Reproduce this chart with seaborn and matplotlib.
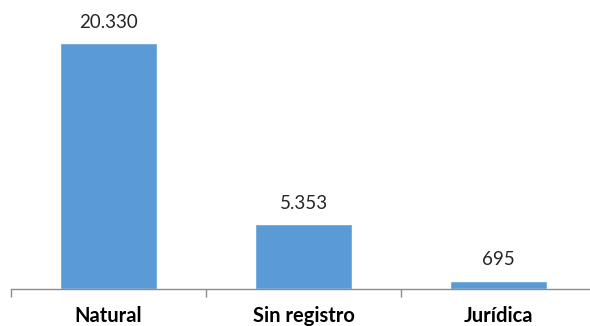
import matplotlib
matplotlib.use("Agg")
import matplotlib.pyplot as plt
import seaborn as sns
import pandas as pd

categories = ["Natural", "Sin registro", "Jurídica"]
values = [20330, 5353, 695]
value_labels = ["20.330", "5.353", "695"]

sns.set_theme(style="white")
plt.rcParams["font.family"] = ["Lato", "DejaVu Sans"]

df = pd.DataFrame({"tipo": categories, "total": values})

fig = plt.figure(figsize=(5.9, 3.26), dpi=100)
ax = fig.add_axes([11 / 590, 37 / 326, 585 / 590, 289 / 326])

sns.barplot(data=df, x="tipo", y="total", color="#5B9BD5", saturation=1,
            width=0.5, ax=ax)

ax.set_ylim(0, 20330 * 289 / 246)
ax.set_xlim(-0.5, 2.5)

ax.bar_label(ax.containers[0], labels=value_labels, padding=9,
             fontsize=13.5, color="#262626")

for side in ["top", "right", "left"]:
    ax.spines[side].set_visible(False)
ax.spines["bottom"].set_color("#8C8C8C")
ax.spines["bottom"].set_linewidth(1)

ax.set_yticks([])
ax.set_xlabel("")
ax.set_ylabel("")
ax.set_xticks([-0.5, 0.5, 1.5, 2.5], minor=True)
ax.tick_params(axis="x", which="minor", length=6, width=1, color="#8C8C8C",
               direction="out", bottom=True)
ax.tick_params(axis="x", which="major", length=0, pad=12.5)
for lbl in ax.get_xticklabels():
    lbl.set_fontweight("bold")
    lbl.set_fontsize(14.5)
    lbl.set_color("#000000")

fig.savefig("out.png", dpi=100)
